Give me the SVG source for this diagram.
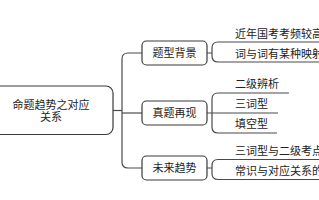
<svg xmlns="http://www.w3.org/2000/svg" width="319" height="200" viewBox="0 0 319 200">
<style>
  .box{fill:#fff;stroke:#3a3a3a;stroke-width:1.2}
  .ln{fill:none;stroke:#4a4a4a;stroke-width:1.2}
  text{font-family:"Noto Sans CJK SC","Noto Sans",sans-serif;font-size:11px;fill:#222}
  .c{text-anchor:middle}
</style>
<rect width="319" height="200" fill="#fff"/>
<g id="connectors">
  <path class="ln" d="M113,110.5 H122"/>
  <path class="ln" d="M142,53 H128 Q122,53 122,59 V162 Q122,168 128,168 H142"/>
  <path class="ln" d="M122,113 H142"/>
  <path class="ln" d="M207,53 H212 M218,42 Q212,42 212,48 V56 Q212,62 218,62"/>
  <path class="ln" d="M207,113 H212 M218,93 Q212,93 212,99 V127 Q212,133 218,133"/>
  <path class="ln" d="M207,168 H212 M218,159.5 Q212,159.5 212,165.5 V173.5 Q212,179.5 218,179.5"/>
</g>
<g id="root">
  <rect class="box" x="-12" y="86" width="125" height="48.5" rx="7"/>
  <text class="c" x="51" y="108.5">命题趋势之对应</text>
  <text class="c" x="51" y="120.5">关系</text>
</g>
<g id="n1">
  <rect class="box" x="142" y="41" width="65" height="24" rx="4.5"/>
  <text class="c" x="174.5" y="57">题型背景</text>
</g>
<g id="n2">
  <rect class="box" x="142" y="101" width="65" height="24" rx="4.5"/>
  <text class="c" x="174.5" y="117">真题再现</text>
</g>
<g id="n3">
  <rect class="box" x="142" y="156" width="65" height="24" rx="4.5"/>
  <text class="c" x="174.5" y="172">未来趋势</text>
</g>
<g id="n1a">
  <path class="ln" d="M218,42 H330"/>
  <text x="235" y="37.5">近年国考考频较高</text>
</g>
<g id="n1b">
  <path class="ln" d="M218,62 H330"/>
  <text x="235" y="57.5">词与词有某种映射</text>
</g>
<g id="n2a">
  <path class="ln" d="M218,93 H289"/>
  <text x="235" y="88">二级辨析</text>
</g>
<g id="n2b">
  <path class="ln" d="M212,113 H278"/>
  <text x="235" y="108">三词型</text>
</g>
<g id="n2c">
  <path class="ln" d="M218,133 H277"/>
  <text x="235" y="128">填空型</text>
</g>
<g id="n3a">
  <path class="ln" d="M218,159.5 H330"/>
  <text x="235" y="155">三词型与二级考点</text>
</g>
<g id="n3b">
  <path class="ln" d="M218,179.5 H330"/>
  <text x="235" y="175">常识与对应关系的</text>
</g>
</svg>
